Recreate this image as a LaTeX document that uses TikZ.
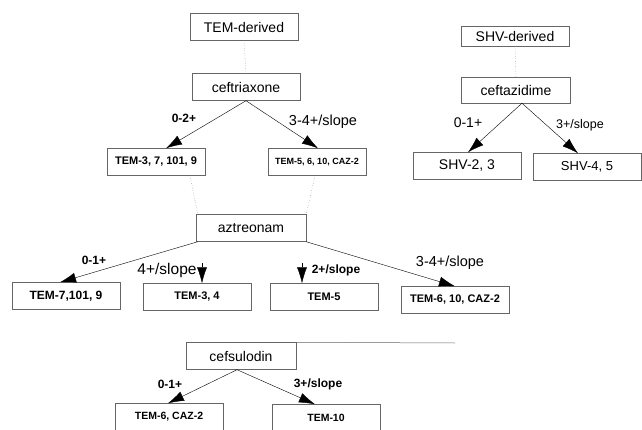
\documentclass[tikz,border=0pt]{standalone}
\usepackage{fontspec}
\setmainfont{Liberation Sans}
\usetikzlibrary{arrows.meta}
\tikzset{
	tbox/.style={draw=black!60,line width=0.45pt,minimum width=108pt,minimum height=27pt,inner sep=0pt,font=\fontsize{11}{13}\selectfont\bfseries},
	bigbox/.style={tbox,font=\fontsize{14}{16}\selectfont},
	lbl/.style={inner sep=0pt,font=\fontsize{12}{14}\selectfont\bfseries},
	biglbl/.style={inner sep=0pt,font=\fontsize{14.5}{16}\selectfont},
	link/.style={draw=black!45,dotted,line width=0.5pt},
	arr/.style={-{Latex[length=16pt,width=10pt]},line width=0.4pt},
}
\begin{document}
\begin{tikzpicture}[x=1pt,y=-1pt]
		\useasboundingbox (0,0) rectangle (642,430);
		\node[bigbox] (temd) at (244,27) {TEM-derived};
		\node[bigbox] (ceftri) at (246,87) {ceftriaxone};
		\node[tbox,minimum width=98pt] (tema) at (156,162) {TEM-3, 7, 101, 9};
		\node[tbox,minimum width=98pt,font=\fontsize{9}{11}\selectfont\bfseries] (temb) at (317,162) {TEM-5, 6, 10, CAZ-2};
		\node[bigbox,minimum width=110pt] (aztr) at (251,228) {aztreonam};
		\node[tbox,font=\fontsize{12}{14}\selectfont\bfseries] (t7) at (66,296) {TEM-7,101, 9};
		\node[tbox] (t34) at (197,297) {TEM-3, 4};
		\node[tbox] (t5) at (324,297) {TEM-5};
		\node[tbox] (t6) at (455,300) {TEM-6, 10, CAZ-2};
		\node[bigbox,minimum width=110pt] (cefs) at (241,356) {cefsulodin};
		\node[tbox,font=\fontsize{10.5}{12}\selectfont\bfseries] (t6c) at (169,417) {TEM-6, CAZ-2};
		\node[tbox,font=\fontsize{10.5}{12}\selectfont\bfseries] (t10) at (326,418) {TEM-10};
		\node[bigbox,minimum height=20pt] (shvd) at (515,36) {SHV-derived};
		\node[bigbox,minimum width=109pt,minimum height=26pt] (ceftaz) at (516,90) {ceftazidime};
		\node[bigbox] (shv23) at (467,166) {SHV-2, 3};
		\node[bigbox,font=\fontsize{13}{15}\selectfont] (shv45) at (587,167) {SHV-4, 5};
		\node[lbl] (l02) at (184,118) {0-2+};
		\node[biglbl] (l34a) at (323,122) {3-4+/slope};
		\node[biglbl,font=\fontsize{14}{16}\selectfont] (l01s) at (468,123) {0-1+};
		\node[lbl,font=\fontsize{12.5}{14}\selectfont] (l3s) at (580,125) {3+/slope};
		\node[lbl] (l01a) at (94,260) {0-1+};
		\node[biglbl,font=\fontsize{15.5}{17}\selectfont] (l4s) at (167,270) {4+/slope};
		\node[lbl] (l2s) at (336,270) {2+/slope};
		\node[biglbl] (l34b) at (450,263) {3-4+/slope};
		\node[lbl] (l01c) at (170,384) {0-1+};
		\node[lbl] (l3c) at (318,384) {3+/slope};
		\coordinate (s34) at (202,263);
		\coordinate (s5) at (302,263);
		\coordinate (stray) at (455,343);
		\draw[link] (temd.south) -- (ceftri.north);
		\draw[link] (shvd.south) -- (ceftaz.north);
		\draw[link] ([xshift=34pt]tema.south) -- ([xshift=2pt]aztr.north west);
		\draw[link] ([xshift=-2pt]temb.south) -- (aztr.north east);
		\draw[draw=black!60,line width=0.5pt] (cefs.north east) -- (stray);
		\draw[arr] (ceftri.south) -- ([xshift=10pt]tema.north);
		\draw[arr] (ceftri.south) -- ([xshift=1pt]temb.north);
		\draw[arr] ([xshift=6pt]ceftaz.south) -- ([xshift=1pt]shv23.north);
		\draw[arr] ([xshift=6pt]ceftaz.south) -- ([xshift=-9pt]shv45.north);
		\draw[arr] ([xshift=2pt]aztr.south west) -- ([xshift=-6pt]t7.north);
		\draw[arr] (s34) -- ([xshift=5pt]t34.north);
		\draw[arr] (s5) -- ([xshift=-22pt]t5.north);
		\draw[arr] (aztr.south east) -- (t6.north);
		\draw[arr] ([xshift=-4pt]cefs.south) -- ([xshift=-1pt]t6c.north);
		\draw[arr] ([xshift=-4pt]cefs.south) -- ([xshift=-11pt]t10.north);
		\end{tikzpicture}
\end{document}
